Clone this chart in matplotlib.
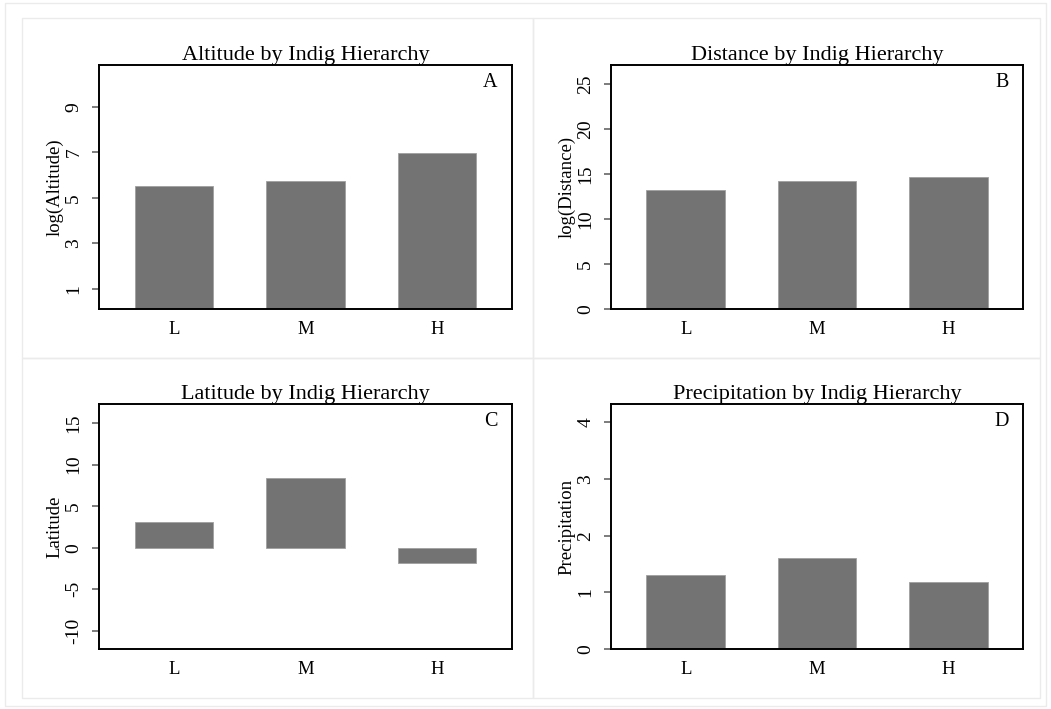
import matplotlib.pyplot as plt
import matplotlib.patches as patches

W, H = 1051, 709
DPI = 100

cats = ["L", "M", "H"]

altitude = [5.51, 5.73, 6.96]
distance = [13.2, 14.26, 14.7]
latitude = [3.12, 8.44, -1.88]
precip = [1.30, 1.60, 1.18]

titles = ["Altitude by Indig Hierarchy", "Distance by Indig Hierarchy",
          "Latitude by Indig Hierarchy", "Precipitation by Indig Hierarchy"]
ylabels = ["log(Altitude)", "log(Distance)", "Latitude", "Precipitation"]
letters = ["A", "B", "C", "D"]
yticks = [[1, 3, 5, 7, 9], [0, 5, 10, 15, 20, 25],
          [-10, -5, 0, 5, 10, 15], [0, 1, 2, 3, 4]]
ylims = [(0.1, 10.85), (0, 27.15), (-12.2, 17.3), (0, 4.32)]
series = [altitude, distance, latitude, precip]

plt.rcParams['font.family'] = ['Liberation Serif', 'DejaVu Serif']

fig = plt.figure(figsize=(W / DPI, H / DPI), dpi=DPI)


def px_rect(x0, y0, x1, y1):
    # pixel box (top-left origin) -> figure fraction [l, b, w, h]
    return [x0 / W, 1 - y1 / H, (x1 - x0) / W, (y1 - y0) / H]


# light frames of the combined graph
frame_col = "#ebebeb"
for (x0, y0, x1, y1) in [(5, 3, 1046, 706), (22, 18, 533, 358), (533, 18, 1040, 358),
                         (22, 358, 533, 698), (533, 358, 1040, 698)]:
    l, b, w, h = px_rect(x0, y0, x1, y1)
    fig.patches.append(patches.Rectangle((l, b), w, h, transform=fig.transFigure,
                                         fill=False, edgecolor=frame_col, lw=1))

boxes = [(99, 65, 512, 309), (611, 65, 1023, 309),
         (99, 404, 512, 649), (611, 404, 1023, 649)]

for i in range(4):
    ax = fig.add_axes(px_rect(*boxes[i]))
    x = [1, 2, 3]
    ax.bar(x, series[i], width=0.6, color="#737373", edgecolor="#a0a0a0", linewidth=0.6)
    ax.set_xlim(0.43, 3.57)
    ax.set_ylim(*ylims[i])
    ax.set_xticks(x)
    ax.set_xticklabels(cats, fontsize=13.5)
    ax.tick_params(axis="x", length=0, pad=9)
    ax.set_yticks(yticks[i])
    ax.set_yticklabels([str(t) if t >= 0 else "-" + str(-t) for t in yticks[i]],
                       rotation=90, va="center", fontsize=14)
    ax.tick_params(axis="y", length=5, width=1.2, color="#666666", pad=7)
    ax.set_ylabel(ylabels[i], fontsize=13.5, labelpad=1)
    ax.set_title(titles[i], fontsize=16, pad=2)
    for s in ax.spines.values():
        s.set_linewidth(1.4)
        s.set_color("black")
    ax.text(0.965, 0.93, letters[i], transform=ax.transAxes, ha="right", va="center",
            fontsize=14.5)

fig.savefig("out.png", dpi=DPI)
